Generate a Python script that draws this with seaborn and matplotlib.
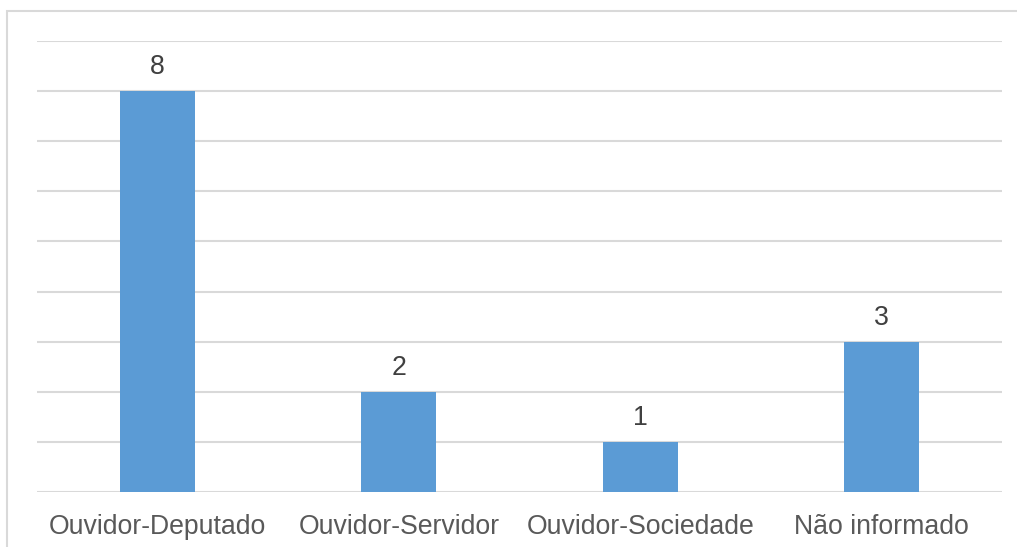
import pandas as pd
import seaborn as sns
import matplotlib.pyplot as plt
from matplotlib.patches import Rectangle

categorias = ['Ouvidor-Deputado', 'Ouvidor-Servidor', 'Ouvidor-Sociedade', 'Não informado']
valores = [8, 2, 1, 3]

df = pd.DataFrame({'categoria': categorias, 'valor': valores})

sns.set_style('white')
plt.rcParams['font.family'] = ['Liberation Sans', 'DejaVu Sans']

fig = plt.figure(figsize=(10.17, 5.47), dpi=100)
ax = fig.add_axes([37/1017, 1 - 492/547, 965/1017, 451/547])

# chart frame
fig.patches.append(Rectangle((7/1017, -0.05), 1.1, 1 - 11/547 + 0.05, transform=fig.transFigure,
                             fill=False, edgecolor='#d9d9d9', linewidth=1.5, zorder=0))

sns.barplot(data=df, x='categoria', y='valor', color='#5b9bd5', width=0.31,
            saturation=1, linewidth=0, ax=ax, zorder=3)

ax.set_ylim(0, 9)
ax.set_yticks(range(0, 10))
ax.yaxis.grid(True, color='#d9d9d9', linewidth=1.5)
ax.set_axisbelow(True)
ax.tick_params(axis='y', left=False, labelleft=False)
ax.tick_params(axis='x', bottom=False, pad=12, labelsize=19.2, labelcolor='#595959')
for s in ax.spines.values():
    s.set_visible(False)
ax.set_xlabel('')
ax.set_ylabel('')

for p, v in zip(ax.patches, valores):
    ax.annotate(str(v), (p.get_x() + p.get_width() / 2, p.get_height()),
                xytext=(0, 8), textcoords='offset points', ha='center', va='bottom',
                fontsize=19.2, color='#404040')

fig.savefig('out.png', dpi=100)
